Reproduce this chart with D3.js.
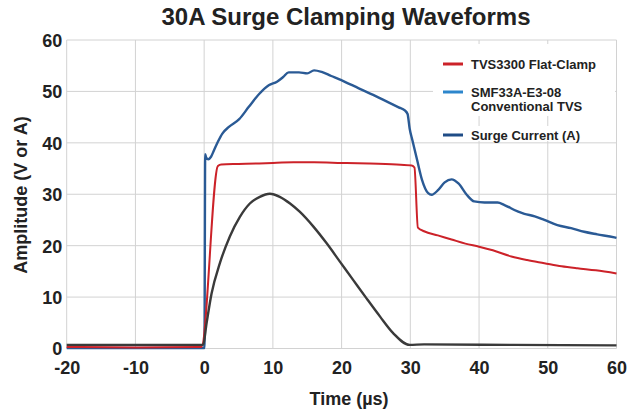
<!DOCTYPE html>
<html>
<head>
<meta charset="utf-8">
<script src="https://cdn.jsdelivr.net/npm/d3@7"></script>
<style>
  html, body { margin: 0; padding: 0; background: #fff; }
  svg text { font-family: "Liberation Sans", Arial, Helvetica, sans-serif; font-weight: bold; fill: #222; }
</style>
</head>
<body>
<svg id="chart" width="639" height="412"></svg>
<script>
// ---- Data ----
const title = "30A Surge Clamping Waveforms";
const xTicks = [-20, -10, 0, 10, 20, 30, 40, 50, 60];
const yTicks = [0, 10, 20, 30, 40, 50, 60];
const xLabel = "Time (µs)";
const yLabel = "Amplitude (V or A)";
const legendNames = [["TVS3300 Flat-Clamp"], ["SMF33A-E3-08", "Conventional TVS"], ["Surge Current (A)"]];

// TVS3300 Flat-Clamp (red) : [time µs, volts]
const tvs3300 = [
  [-20,0.3],[-10,0.2],[-1,0.3],[-0.4,0.3],[2.0,35.5],[2.5,35.8],[5,35.9],[8,36.0],[10,36.1],
  [13,36.2],[16,36.2],[20,36.1],[24,36.0],[28,35.8],[30.2,35.6],[30.6,35.2],[31.1,23.5],
  [32,22.8],[34,22.0],[36,21.2],[38,20.4],[40,19.8],[42,19.1],[44.7,17.9],[47,17.2],
  [49.5,16.6],[52,16.0],[54.3,15.6],[57,15.2],[60,14.6]
];
// SMF33A-E3-08 Conventional TVS (blue)
const smf33a = [
  [-20,0.1],[0.05,0.1],[0.15,37.8],[0.3,37.1],[0.6,36.8],[1.0,37.3],[1.45,38.6],[2,40.2],
  [2.65,41.8],[3.6,43.1],[5.1,44.6],[6.5,47.0],[8,49.5],[9.4,51.2],[10.6,51.9],[11.5,52.8],
  [12.3,53.7],[13.8,53.7],[15,53.5],[16,54.1],[17.1,53.8],[18.5,53.0],[19.6,52.4],[22.5,50.6],
  [25.4,48.8],[28.3,46.9],[29.2,46.3],[29.6,45.6],[29.9,42.8],[30.3,40.5],[31,36.6],[31.7,32.8],
  [32.6,30.2],[33.1,29.9],[34.1,30.9],[35,32.3],[36,32.9],[37,32.1],[38.2,29.9],[39.3,28.6],
  [40.8,28.4],[42.7,28.4],[43.7,27.9],[45.7,26.6],[46.6,26.2],[48.1,25.7],[49.5,25.0],
  [51.4,24.0],[53.4,23.4],[55.3,22.7],[57.2,22.2],[59.7,21.6],[60,21.5]
];
// Surge current (gray) : [time µs, amps]
const surgeCurrent = [
  [-20,0.7],[-10,0.7],[-0.15,0.7],[0.35,4.9],[1.08,10.7],[2.29,16.6],[3.74,21.8],[5.2,25.6],
  [6.65,28.2],[8.1,29.5],[9.56,30.1],[11.0,29.5],[12.5,28.2],[13.9,26.6],[15.9,23.7],
  [17.8,20.5],[19.75,16.9],[21.7,13.3],[23.6,9.8],[25.6,6.2],[27.5,3.0],[29.9,0.7],
  [32,0.8],[45,0.7],[60,0.6]
];

// ---- Layout ----
const svg = d3.select("#chart");
const pLeft = 66.7, pRight = 616.5, pTop = 40, pBottom = 348.5;
const x = d3.scaleLinear().domain([-20, 60]).range([pLeft, pRight]);
const y = d3.scaleLinear().domain([0, 60]).range([pBottom, pTop]);

// gridlines
const grid = svg.append("g").attr("stroke", "#d2d2d2").attr("stroke-width", 1);
grid.selectAll("line.v").data(xTicks).join("line").attr("class", "v")
  .attr("x1", d => x(d)).attr("x2", d => x(d)).attr("y1", pTop).attr("y2", pBottom);
grid.selectAll("line.h").data(yTicks).join("line").attr("class", "h")
  .attr("x1", pLeft).attr("x2", pRight).attr("y1", d => y(d)).attr("y2", d => y(d));

// axes with d3 axis generators (labels only)
const xAxis = svg.append("g").attr("transform", `translate(0,${pBottom})`)
  .call(d3.axisBottom(x).tickValues(xTicks).tickSize(0).tickPadding(0).tickFormat(d => String(d)));
xAxis.select(".domain").remove();
xAxis.selectAll("text").attr("y", 25.5).attr("dy", null)
  .style("font-size", "18px").attr("fill", "#222");

const yAxis = svg.append("g").attr("transform", `translate(${pLeft},0)`)
  .call(d3.axisLeft(y).tickValues(yTicks).tickSize(0).tickPadding(0).tickFormat(d => String(d)));
yAxis.select(".domain").remove();
yAxis.selectAll("text").attr("x", -4.5).attr("dy", "0.36em")
  .style("font-size", "18px").attr("fill", "#222");

// series
const line = d3.line().curve(d3.curveMonotoneX).x(d => x(d[0])).y(d => y(d[1]));
const plotColors = ["#2a5a95", "#cc2229", "#3a3a3a"];
const seriesDraw = [smf33a, tvs3300, surgeCurrent];
svg.append("g").selectAll("path").data(seriesDraw).join("path")
  .attr("d", line).attr("fill", "none")
  .attr("stroke", (d, i) => plotColors[i])
  .attr("stroke-width", (d, i) => i === 1 ? 2 : 2.4)
  .attr("stroke-linejoin", "round");

// legend
const legendColors = ["#cc2229", "#2d86cc", "#1f4c86"];
const lg = svg.append("g");
lg.append("rect").attr("x", 433).attr("y", 44).attr("width", 182).attr("height", 72).attr("fill", "#fff");
lg.append("rect").attr("x", 433).attr("y", 126).attr("width", 182).attr("height", 15).attr("fill", "#fff");
const legY = [64, 92, 135];
const items = lg.selectAll("g.item").data(legendNames).join("g").attr("class", "item")
  .attr("transform", (d, i) => `translate(443,${legY[i]})`);
items.append("line").attr("x1", 0).attr("x2", 20).attr("y1", 0).attr("y2", 0)
  .attr("stroke", (d, i) => legendColors[i]).attr("stroke-width", 3);
items.each(function(d) {
  const t = d3.select(this).append("text").attr("x", 28).attr("y", 4.5).style("font-size", "13px");
  d.forEach((s, j) => t.append("tspan").attr("x", 28).attr("dy", j === 0 ? 0 : 14.5).text(s));
});

// title and axis titles
svg.append("text").attr("x", 346).attr("y", 25).attr("text-anchor", "middle")
  .style("font-size", "24px").text(title);
svg.append("text").attr("x", 349).attr("y", 405).attr("text-anchor", "middle")
  .style("font-size", "18px").text(xLabel);
svg.append("text").attr("transform", "translate(27,195) rotate(-90)").attr("text-anchor", "middle")
  .style("font-size", "18px").text(yLabel);
</script>
</body>
</html>
